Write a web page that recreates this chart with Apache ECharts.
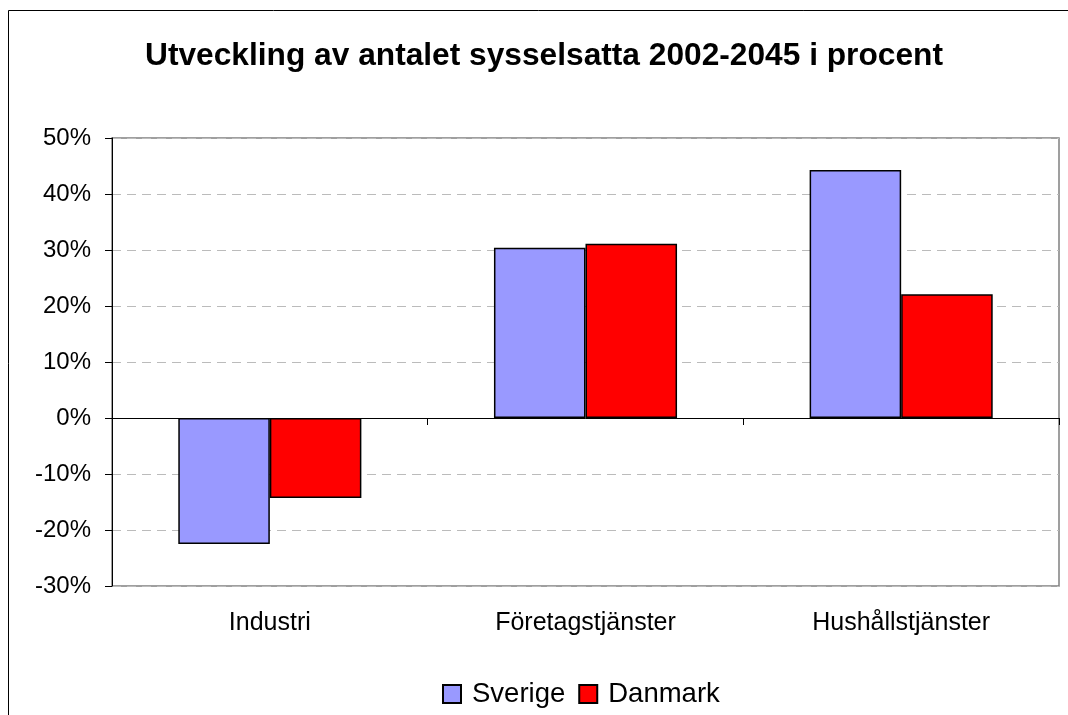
<!DOCTYPE html>
<html>
<head>
<meta charset="utf-8">
<title>Utveckling av antalet sysselsatta</title>
<script src="https://cdn.jsdelivr.net/npm/echarts@6/dist/echarts.min.js"></script>
<style>
  html, body { margin: 0; padding: 0; background: #fff; }
  #chart { width: 1068px; height: 715px; }
</style>
</head>
<body>
<div id="chart"></div>
<script>
// data
var categories = ['Industri', 'Företagstjänster', 'Hushållstjänster'];
var sverige = [-22.5, 30.4, 44.3];
var danmark = [-14.3, 31.1, 22.1];
var seriesNames = ['Sverige', 'Danmark'];
var titleText = 'Utveckling av antalet sysselsatta 2002-2045 i procent';

var font = '"Liberation Sans", Arial, sans-serif';

var myChart = echarts.init(document.getElementById('chart'));

var option = {
    backgroundColor: '#fff',
    animation: false,
    graphic: [
        {   // outer chart frame
            type: 'rect',
            z: -1,
            shape: { x: 8.5, y: 10.5, width: 1200, height: 1000 },
            style: { fill: 'none', stroke: '#000', lineWidth: 1 }
        },
        {
            type: 'text',
            x: 544,
            y: 40,
            style: {
                text: titleText,
                textAlign: 'center',
                fontFamily: font,
                fontWeight: 'bold',
                fontSize: 31.7,
                fill: '#000'
            }
        }
    ],
    legend: {
        data: seriesNames,
        left: 437,
        top: 675,
        icon: 'rect',
        itemWidth: 18,
        itemHeight: 18,
        itemGap: 13,
        textStyle: { fontFamily: font, fontSize: 27.5, color: '#000', padding: [0, 0, 0, 6] }
    },
    grid: {
        left: 112,
        right: 9,
        top: 138,
        bottom: 129,
        show: true,
        borderColor: '#808080',
        borderWidth: 1.5
    },
    xAxis: [
        {   // labels at the bottom
            type: 'category',
            data: categories,
            position: 'bottom',
            axisLine: { show: false, onZero: false },
            axisTick: { show: false },
            axisLabel: { fontFamily: font, fontSize: 25, color: '#000', margin: 25 }
        },
        {   // zero line with ticks
            type: 'category',
            data: categories,
            position: 'bottom',
            axisLine: { show: true, onZero: true, lineStyle: { color: '#000', width: 1 } },
            axisTick: { show: true, length: 7, lineStyle: { color: '#000' } },
            axisLabel: { show: false }
        }
    ],
    yAxis: {
        type: 'value',
        min: -30,
        max: 50,
        interval: 10,
        axisLine: { show: true, lineStyle: { color: '#000', width: 1 } },
        axisTick: { show: true, length: 7, lineStyle: { color: '#000' } },
        axisLabel: {
            fontFamily: font, fontSize: 24, color: '#000', margin: 21,
            formatter: '{value}%'
        },
        splitLine: { show: true, lineStyle: { color: '#BBBBBB', type: [9, 6] } }
    },
    series: [
        {
            name: seriesNames[0],
            type: 'bar',
            xAxisIndex: 0,
            data: sverige,
            barGap: '0%',
            barCategoryGap: '42%',
            itemStyle: { color: '#9999FF', borderColor: '#000', borderWidth: 1.5 }
        },
        {
            name: seriesNames[1],
            type: 'bar',
            xAxisIndex: 0,
            data: danmark,
            barGap: '0%',
            barCategoryGap: '42%',
            itemStyle: { color: '#FF0000', borderColor: '#000', borderWidth: 1.5 }
        }
    ]
};

myChart.setOption(option);
</script>
</body>
</html>
